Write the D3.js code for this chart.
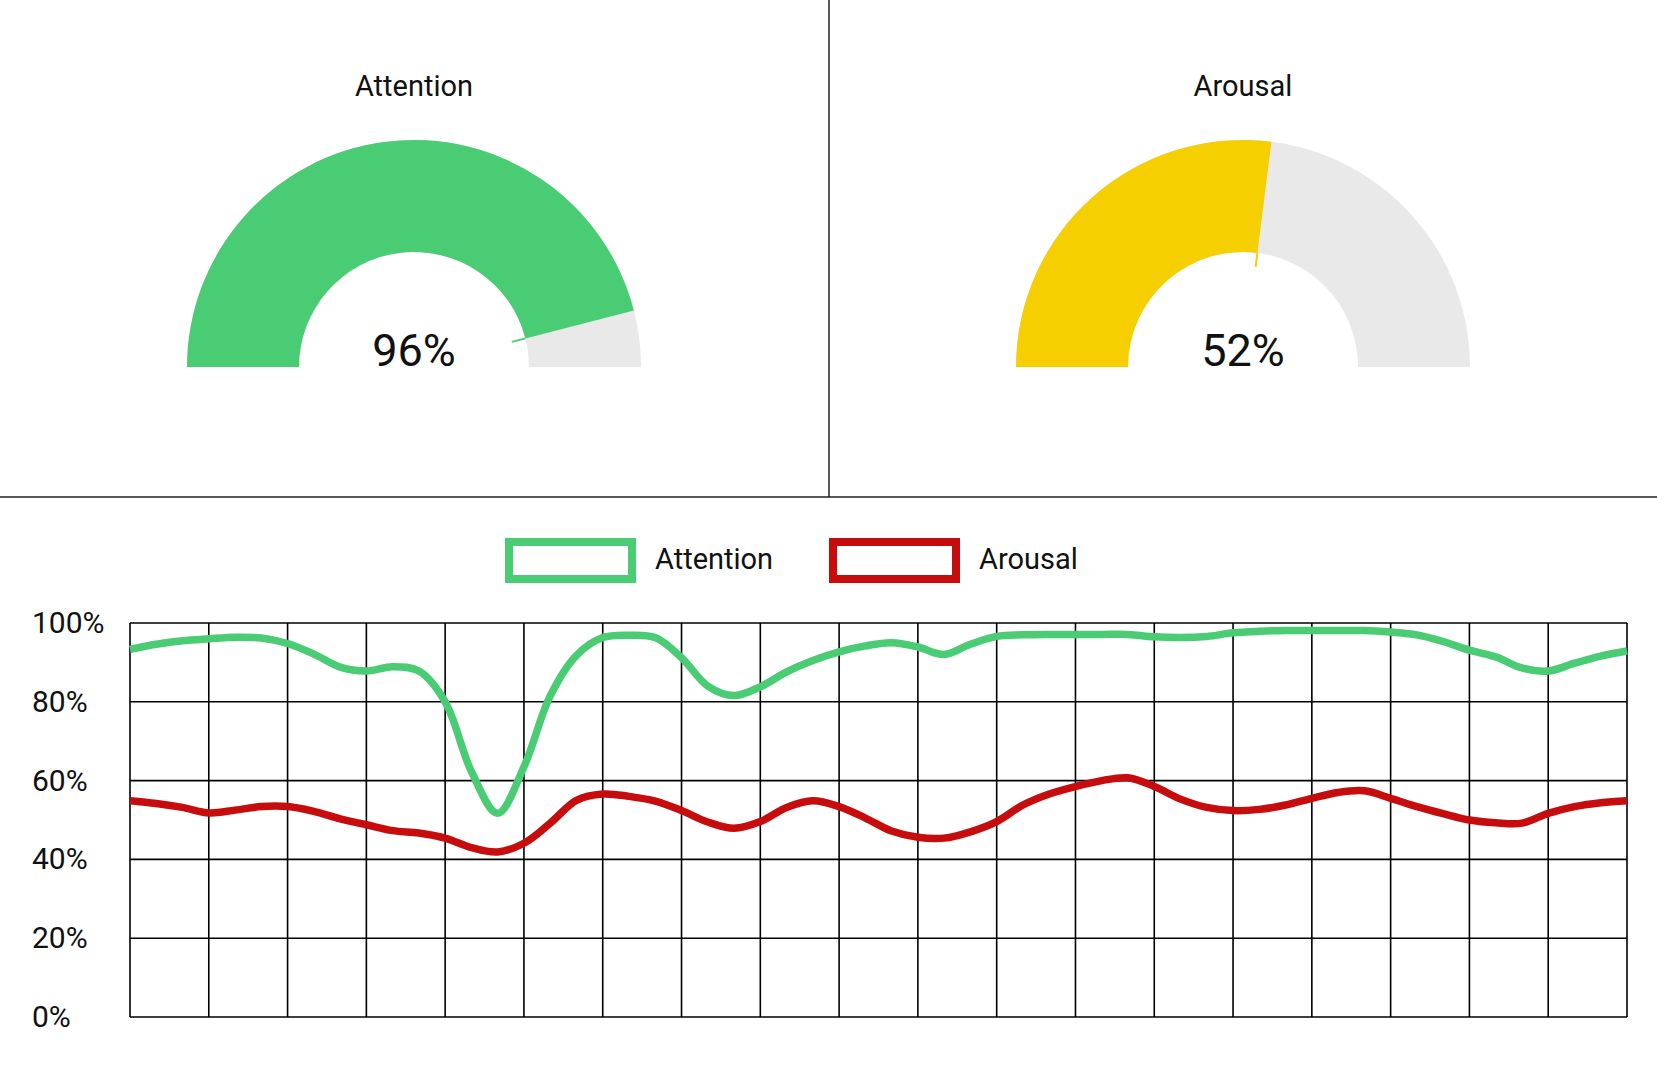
<!DOCTYPE html>
<html>
<head>
<meta charset="utf-8">
<script src="https://cdn.jsdelivr.net/npm/d3@7"></script>
<style>
  html, body { margin: 0; padding: 0; background: #fff; }
  svg { display: block; font-family: Roboto, "Liberation Sans", sans-serif; }
</style>
</head>
<body>
<svg id="chart"></svg>
<script>
// gauge panels
const gaugeNames = ['Attention', 'Arousal'];
const gaugeLabels = [96, 52];      // number printed in the middle
const gaugeFill = [92, 54];        // how far the arc is filled in the picture
const gaugeColors = ['#49cc73', '#f5cf00'];

// time series (one sample every third of a grid column)
const seriesNames = ['Attention', 'Arousal'];
const seriesColors = ['#49cc73', '#c60c0c'];
const attention = [93.3, 94.6, 95.5, 96.0, 96.4, 96.2, 94.8, 92.1, 88.8, 87.8,
  88.9, 87.8, 80.0, 62.3, 51.7, 63.5, 81.5, 91.8, 96.3, 96.9,
  96.3, 91.2, 84.0, 81.6, 83.8, 87.6, 90.5, 92.7, 94.2, 95.0,
  93.9, 92.0, 94.6, 96.6, 97.0, 97.1, 97.1, 97.1, 97.1, 96.5,
  96.3, 96.6, 97.5, 97.9, 98.1, 98.1, 98.1, 98.1, 97.7, 97.0,
  95.3, 93.1, 91.4, 88.6, 87.8, 89.8, 91.6, 92.9];
const arousal = [54.9, 54.2, 53.2, 51.8, 52.5, 53.4, 53.4, 52.2, 50.3, 48.8,
  47.3, 46.7, 45.4, 43.0, 41.9, 44.1, 49.2, 55.0, 56.6, 56.0,
  54.8, 52.4, 49.5, 47.9, 49.6, 53.2, 54.9, 53.4, 50.5, 47.2,
  45.6, 45.4, 47.0, 49.6, 53.8, 56.6, 58.5, 60.0, 60.7, 58.5,
  55.3, 53.2, 52.4, 52.7, 53.8, 55.5, 57.0, 57.4, 55.5, 53.4,
  51.6, 50.0, 49.3, 49.2, 51.7, 53.4, 54.4, 54.9];
const yTicks = [0, 20, 40, 60, 80, 100];

const W = 1657, H = 1080;
const svg = d3.select('#chart').attr('width', W).attr('height', H);

// panel dividers
svg.append('line')
  .attr('x1', 829).attr('x2', 829).attr('y1', 0).attr('y2', 497)
  .attr('stroke', '#222').attr('stroke-width', 1.5);
svg.append('line')
  .attr('x1', 0).attr('x2', W).attr('y1', 497).attr('y2', 497)
  .attr('stroke', '#222').attr('stroke-width', 1.5);

// ---- gauges ----
const dims = { outer: 227, inner: 115, cy: 367 };
const angle = d3.scaleLinear().domain([0, 100]).range([-Math.PI / 2, Math.PI / 2]);
const arcPath = d3.arc().innerRadius(dims.inner).outerRadius(dims.outer);

gaugeNames.forEach((name, i) => {
  const cx = 414 + i * 829;
  const g = svg.append('g').attr('transform', `translate(${cx}, ${dims.cy})`);

  g.append('path')
    .attr('d', arcPath({ startAngle: angle(0), endAngle: angle(100) }))
    .attr('fill', '#e9e9e9');
  g.append('path')
    .attr('d', arcPath({ startAngle: angle(0), endAngle: angle(gaugeFill[i]) }))
    .attr('fill', gaugeColors[i]);

  // little needle stub just inside the inner edge
  const a = angle(gaugeFill[i]);
  g.append('line')
    .attr('x1', Math.sin(a) * dims.inner).attr('y1', -Math.cos(a) * dims.inner)
    .attr('x2', Math.sin(a) * (dims.inner - 14)).attr('y2', -Math.cos(a) * (dims.inner - 14))
    .attr('stroke', gaugeColors[i]).attr('stroke-width', 2);

  g.append('text')
    .attr('y', 96 - dims.cy)
    .attr('text-anchor', 'middle')
    .style('font-size', '29px')
    .attr('fill', '#111')
    .text(name);

  g.append('text')
    .attr('y', -1)
    .attr('text-anchor', 'middle')
    .style('font-size', '45px')
    .attr('fill', '#111')
    .text(gaugeLabels[i] + '%');
});

// ---- line chart ----
const plot = { left: 130, right: 1627, top: 623, bottom: 1017 };
const x = d3.scaleLinear().domain([0, attention.length - 1]).range([plot.left, plot.right]);
const y = d3.scaleLinear().domain([0, 100]).range([plot.bottom, plot.top]);

const grid = svg.append('g');
grid.selectAll('line.h')
  .data(yTicks)
  .enter()
  .append('line')
  .attr('class', 'h')
  .attr('x1', plot.left).attr('x2', plot.right)
  .attr('y1', d => y(d)).attr('y2', d => y(d))
  .attr('stroke', '#000').attr('stroke-width', 1.6);

grid.selectAll('line.v')
  .data(d3.range(0, attention.length, 3))
  .enter()
  .append('line')
  .attr('class', 'v')
  .attr('x1', d => x(d)).attr('x2', d => x(d))
  .attr('y1', plot.top).attr('y2', plot.bottom)
  .attr('stroke', '#000').attr('stroke-width', 1.6);

svg.selectAll('text.ylab')
  .data(yTicks)
  .enter()
  .append('text')
  .attr('class', 'ylab')
  .attr('x', 32)
  .attr('y', d => y(d) + 10)
  .style('font-size', '30px')
  .attr('fill', '#111')
  .text(d => d + '%');

const line = d3.line()
  .x((d, i) => x(i))
  .y(d => y(d))
  .curve(d3.curveCatmullRom.alpha(0.5));

[attention, arousal].forEach((data, i) => {
  svg.append('path')
    .datum(data)
    .attr('d', line)
    .attr('fill', 'none')
    .attr('stroke', seriesColors[i])
    .attr('stroke-width', 7.5)
    .attr('stroke-linejoin', 'round');
});

// legend
const legendGroup = svg.append('g').attr('transform', 'translate(509, 542)');
seriesNames.forEach((name, i) => {
  const lg = legendGroup.append('g').attr('transform', `translate(${i * 324}, 0)`);
  lg.append('rect')
    .attr('width', 123).attr('height', 37)
    .attr('fill', 'none')
    .attr('stroke', seriesColors[i])
    .attr('stroke-width', 8);
  lg.append('text')
    .attr('x', 146).attr('y', 27)
    .style('font-size', '29px')
    .attr('fill', '#111')
    .text(name);
});
</script>
</body>
</html>
